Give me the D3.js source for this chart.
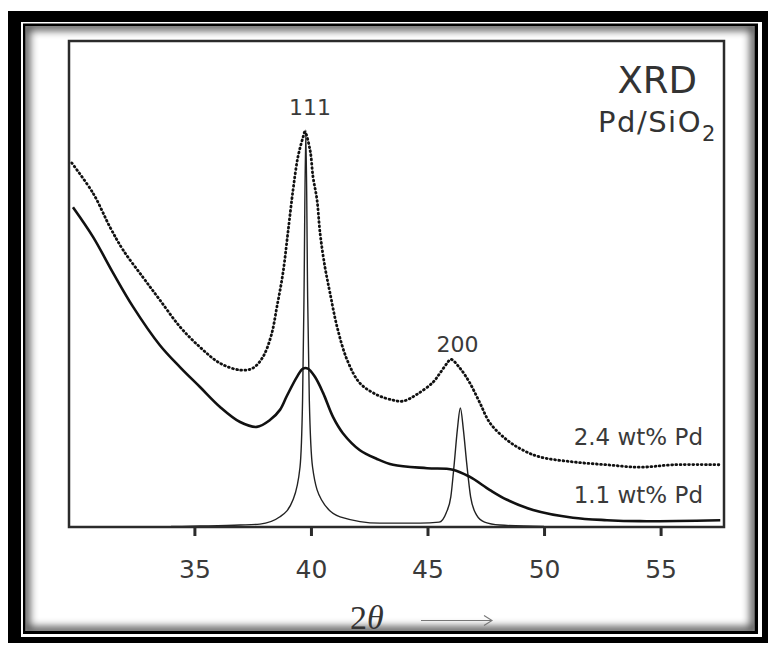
<!DOCTYPE html>
<html>
<head>
<meta charset="utf-8">
<script src="https://cdn.jsdelivr.net/npm/d3@7"></script>
<style>
  body { margin: 0; background: #fff; }
  svg { display: block; }
</style>
</head>
<body>
<div id="chart"></div>
<script>
var width = 768;
var height = 648;
var plot = { left: 69, top: 41, right: 724, bottom: 527 };

// [2theta in degrees, intensity in a.u.]
var pd24 = [
  [29.74, 74.9], [30.65, 68.7], [31.38, 61.7], [31.94, 57.0], [32.79, 51.4],
  [33.52, 46.7], [34.38, 41.2], [35.24, 37.0], [36.10, 33.7], [36.96, 32.3],
  [37.51, 32.7], [37.94, 35.0], [38.30, 39.5], [38.54, 45.3], [38.80, 52.3],
  [39.01, 60.5], [39.23, 69.3], [39.44, 76.1], [39.66, 80.2], [39.74, 81.3],
  [39.96, 77.6], [40.09, 72.0], [40.26, 67.3], [40.39, 60.5], [40.60, 53.5],
  [40.82, 48.1], [41.12, 41.2], [41.55, 34.4], [42.10, 29.6], [42.83, 27.2],
  [43.52, 26.1], [43.95, 25.9], [44.55, 27.3], [45.24, 29.8], [45.54, 31.7],
  [45.84, 33.7], [46.00, 34.5], [46.39, 32.7], [46.82, 29.6], [47.25, 25.5],
  [47.68, 21.4], [48.41, 17.9], [49.10, 15.8], [49.83, 14.4], [51.24, 13.4],
  [52.70, 12.8], [54.12, 12.3], [55.54, 12.8], [57.56, 12.8]
];

var pd11 = [
  [29.79, 65.8], [30.65, 59.7], [31.51, 52.3], [32.37, 45.3], [33.52, 37.4],
  [34.38, 32.9], [35.24, 28.8], [36.10, 24.7], [36.96, 21.6], [37.68, 20.6],
  [38.24, 22.0], [38.67, 24.1], [38.97, 27.0], [39.40, 30.9], [39.66, 32.6],
  [39.87, 32.6], [40.17, 30.9], [40.52, 27.6], [40.95, 22.6], [41.37, 19.3],
  [42.10, 15.8], [42.83, 14.0], [43.52, 12.8], [44.98, 12.1], [46.09, 11.8],
  [46.82, 10.3], [47.68, 7.6], [48.41, 5.6], [49.53, 3.5], [51.24, 1.9],
  [52.70, 1.4], [54.12, 1.2], [57.56, 1.4]
];

// sharp reference pattern (bulk Pd)
var pdRef = [
  [34.0, 0.1], [35.24, 0.2], [36.96, 0.4], [37.81, 0.6], [38.67, 2.1],
  [39.23, 5.6], [39.53, 12.3], [39.64, 26.1], [39.70, 46.7], [39.78, 81.7],
  [39.86, 46.7], [39.93, 26.1], [40.07, 12.3], [40.45, 5.6], [41.25, 2.1],
  [42.96, 0.8], [44.68, 0.8], [45.50, 1.0], [45.80, 2.9], [46.00, 6.2],
  [46.15, 13.2], [46.28, 20.0], [46.41, 24.5], [46.54, 20.0], [46.68, 13.2],
  [46.85, 6.2], [47.10, 2.5], [47.45, 1.0], [48.10, 0.4], [50.0, 0.1]
];

var xTicks = [35, 40, 45, 50, 55];
var peakLabels = [
  { text: "111", x: 39.96, y: 84.8 },
  { text: "200", x: 46.29, y: 36.0 }
];
var sampleLabels = [
  { text: "2.4 wt% Pd", x: 56.82, y: 16.9 },
  { text: "1.1 wt% Pd", x: 56.82, y: 4.9 }
];

const svg = d3
  .select("#chart")
  .append("svg")
  .attr("width", width)
  .attr("height", height);

// picture frame: thick black border, thin line, inner shadow
const defs = svg.append("defs");
defs
  .append("filter")
  .attr("id", "soft")
  .attr("x", "-10%")
  .attr("y", "-10%")
  .attr("width", "120%")
  .attr("height", "120%")
  .append("feGaussianBlur")
  .attr("stdDeviation", 4);
defs
  .append("clipPath")
  .attr("id", "panelClip")
  .append("rect")
  .attr("x", 25.5)
  .attr("y", 26)
  .attr("width", 729)
  .attr("height", 605);

svg.append("rect").attr("x", 8).attr("y", 11).attr("width", 760).attr("height", 632).attr("fill", "#000");
svg.append("rect").attr("x", 21).attr("y", 22).attr("width", 741).attr("height", 615).attr("fill", "#fff");
svg.append("rect").attr("x", 23).attr("y", 23.5).attr("width", 735).attr("height", 610.5).attr("fill", "#000");
svg.append("rect").attr("x", 25.5).attr("y", 26).attr("width", 729).attr("height", 605).attr("fill", "#fff");
svg
  .append("g")
  .attr("clip-path", "url(#panelClip)")
  .append("rect")
  .attr("x", 25.5)
  .attr("y", 26)
  .attr("width", 729)
  .attr("height", 605)
  .attr("fill", "none")
  .attr("stroke", "#000")
  .attr("stroke-width", 8)
  .attr("opacity", 0.75)
  .attr("filter", "url(#soft)");

// scales
const xScale = d3.scaleLinear().domain([29.62, 57.72]).range([plot.left, plot.right]);
const yScale = d3.scaleLinear().domain([0, 100]).range([plot.bottom, plot.top]);

const line = d3
  .line()
  .x((d) => xScale(d[0]))
  .y((d) => yScale(d[1]))
  .curve(d3.curveCatmullRom.alpha(0.5));

const chart = svg.append("g");

chart
  .append("path")
  .datum(pdRef)
  .attr("d", line.curve(d3.curveMonotoneX))
  .attr("fill", "none")
  .attr("stroke", "#222")
  .attr("stroke-width", 1.4);

line.curve(d3.curveCatmullRom.alpha(0.5));

chart
  .append("path")
  .datum(pd11)
  .attr("d", line)
  .attr("fill", "none")
  .attr("stroke", "#111")
  .attr("stroke-width", 2.6);

chart
  .append("path")
  .datum(pd24)
  .attr("d", line)
  .attr("fill", "none")
  .attr("stroke", "#111")
  .attr("stroke-width", 2.8)
  .attr("stroke-linecap", "round")
  .attr("stroke-dasharray", "0.8,3.4");

// plot frame
svg
  .append("rect")
  .attr("x", plot.left)
  .attr("y", plot.top)
  .attr("width", plot.right - plot.left)
  .attr("height", plot.bottom - plot.top)
  .attr("fill", "none")
  .attr("stroke", "#2b2b2b")
  .attr("stroke-width", 2.5);

// x axis
const xAxis = svg
  .append("g")
  .attr("transform", `translate(0,${plot.bottom})`)
  .call(
    d3
      .axisBottom(xScale)
      .tickValues(xTicks)
      .tickSize(9)
      .tickSizeOuter(0)
      .tickPadding(24)
      .tickFormat((d) => d)
  );
xAxis.select(".domain").remove();
xAxis.selectAll(".tick line").attr("stroke", "#2b2b2b").attr("stroke-width", 3);
xAxis
  .selectAll(".tick text")
  .attr("fill", "#3a3a3a")
  .style("font-family", "'DejaVu Sans', Verdana, sans-serif")
  .style("font-size", "25px");

// x label "2θ ⟶"
const xLabel = svg
  .append("text")
  .attr("x", 350)
  .attr("y", 629)
  .attr("fill", "#333")
  .style("font-family", "'Liberation Serif', 'DejaVu Serif', serif")
  .style("font-size", "34px");
xLabel.append("tspan").text("2");
xLabel.append("tspan").style("font-style", "italic").text("\u03B8");

svg
  .append("path")
  .attr("d", "M421,620.5H492M484,615.5L492,620.5L484,625.5")
  .attr("fill", "none")
  .attr("stroke", "#777")
  .attr("stroke-width", 1.1);

// peak labels
svg
  .selectAll(".peak-label")
  .data(peakLabels)
  .enter()
  .append("text")
  .attr("class", "peak-label")
  .attr("x", (d) => xScale(d.x))
  .attr("y", (d) => yScale(d.y))
  .attr("text-anchor", "middle")
  .attr("fill", "#3a3a3a")
  .style("font-family", "'DejaVu Sans', Verdana, sans-serif")
  .style("font-size", "22px")
  .text((d) => d.text);

// sample labels
svg
  .selectAll(".sample-label")
  .data(sampleLabels)
  .enter()
  .append("text")
  .attr("class", "sample-label")
  .attr("x", (d) => xScale(d.x))
  .attr("y", (d) => yScale(d.y))
  .attr("text-anchor", "end")
  .attr("fill", "#3a3a3a")
  .style("font-family", "'DejaVu Sans', Verdana, sans-serif")
  .style("font-size", "23px")
  .text((d) => d.text);

// title block
svg
  .append("text")
  .attr("x", 697)
  .attr("y", 93)
  .attr("text-anchor", "end")
  .attr("fill", "#333")
  .style("font-family", "'DejaVu Sans', Verdana, sans-serif")
  .style("font-size", "37px")
  .text("XRD");

const sub = svg
  .append("text")
  .attr("x", 598)
  .attr("y", 132)
  .attr("fill", "#333")
  .style("font-family", "'DejaVu Sans', Verdana, sans-serif")
  .style("font-size", "29px")
  .style("letter-spacing", "1.5px");
sub.append("tspan").text("Pd/SiO");
sub.append("tspan").attr("dy", 9).style("font-size", "21px").text("2");
</script>
</body>
</html>
